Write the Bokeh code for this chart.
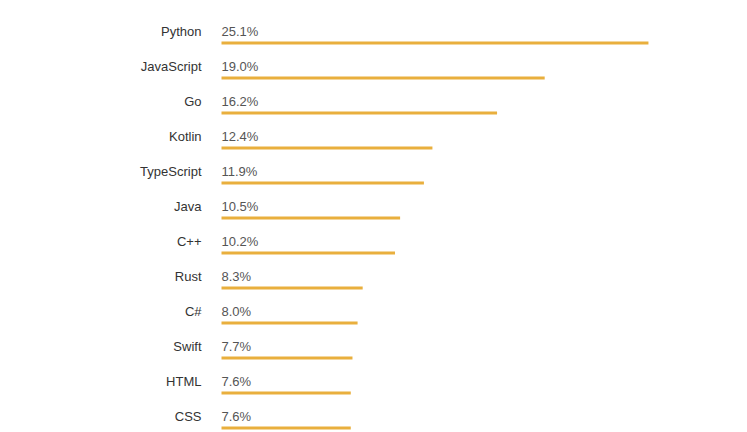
from bokeh.plotting import figure
from bokeh.models import Range1d, ColumnDataSource
from bokeh.core.properties import value
from bokeh.embed import file_html
from bokeh.resources import INLINE

languages = ["Python", "JavaScript", "Go", "Kotlin", "TypeScript", "Java",
             "C++", "Rust", "C#", "Swift", "HTML", "CSS"]
shares = [25.1, 19.0, 16.2, 12.4, 11.9, 10.5, 10.2, 8.3, 8.0, 7.7, 7.6, 7.6]
share_labels = ["%.1f%%" % s for s in shares]

W, H = 747, 432
PX_PER_PCT = 17.01
X0 = 221          # pixel position of 0%
ROW = 35          # px per row
TOP = 42.5        # px center of first bar

idx = list(range(len(languages)))
text_y = [i - 12.0 / ROW for i in idx]

src = ColumnDataSource(dict(lang=languages, share=shares, lab=share_labels,
                            y=idx, ty=text_y, zero=[0] * len(idx)))

p = figure(width=W, height=H, output_backend="svg", toolbar_location=None,
           x_range=Range1d(-X0 / PX_PER_PCT, (W - X0) / PX_PER_PCT),
           y_range=Range1d((H - TOP) / ROW, -TOP / ROW),
           x_axis_location=None, y_axis_location=None, min_border=0)
p.outline_line_color = None
p.grid.visible = False
p.background_fill_color = "white"
p.border_fill_color = "white"

p.segment(x0="zero", y0="y", x1="share", y1="y", source=src,
          line_color="#E9AF3D", line_width=3, line_cap="butt")

p.text(x="zero", y="ty", text="lang", source=src, x_offset=-20,
       text_align="right", text_baseline="alphabetic",
       text_font=value("Liberation Sans"), text_font_size="13px",
       text_color="#333333")

p.text(x="zero", y="ty", text="lab", source=src,
       text_align="left", text_baseline="alphabetic",
       text_font=value("Liberation Sans"), text_font_size="13px",
       text_color="#555555")

open("out.html", "w").write(file_html(p, INLINE))
